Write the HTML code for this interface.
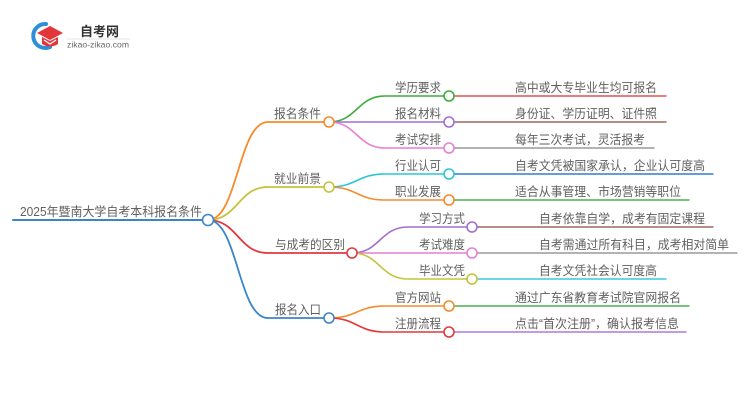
<!DOCTYPE html>
<html>
<head>
<meta charset="utf-8">
<style>
html,body{margin:0;padding:0;background:#fff;}
svg{display:block;}
text{font-family:"Liberation Sans","Noto Sans CJK SC","WenQuanYi Zen Hei",sans-serif;}
.t{font-size:12.5px;fill:#606060;}
</style>
</head>
<body>
<svg width="750" height="410" viewBox="0 0 750 410" xmlns="http://www.w3.org/2000/svg">
<!-- logo -->
<g>
  <path d="M46 24 A12 12 0 1 0 50 47" fill="none" stroke="#2c8fd8" stroke-width="4" stroke-linecap="round"/>
  <path d="M37 33 L50 26 L63 33 L50 40 Z" fill="#e2363a"/>
  <path d="M42 37 L42 44 Q50 49 58 44 L58 37 L50 41 Z" fill="#e2363a"/>
  <path d="M44 40 L50 44 L56 40" fill="none" stroke="#fff" stroke-width="1.2"/>
  <text x="80" y="36" style="font-size:13px;font-weight:bold;fill:#333;font-family:'Liberation Sans','Noto Sans CJK SC',sans-serif;">自考网</text>
  <line x1="67" y1="39" x2="130" y2="39" stroke="#e4e4e4" stroke-width="1"/>
  <text x="67" y="47.5" style="font-size:8.6px;fill:#666;" textLength="62">zikao-zikao.com</text>
</g>

<g fill="none" stroke-linecap="round">
  <line x1="13" y1="220" x2="203" y2="220" stroke="#3a86c8" stroke-width="2"/>
  <path d="M208 220 C238 220 238 122 268 122 L324 122" stroke="#f68b2c" stroke-width="1.8"/>
  <path d="M208 220 C238 220 238 187 268 187 L324 187" stroke="#c5c33a" stroke-width="1.8"/>
  <path d="M208 220 C238 220 238 253 268 253 L347 253" stroke="#e0393e" stroke-width="1.8"/>
  <path d="M208 220 C238 220 238 318 268 318 L324 318" stroke="#3a86c8" stroke-width="1.8"/>

  <path d="M329 122 C357 122 357 96 385 96 L444 96" stroke="#3cad3c" stroke-width="1.6"/>
  <path d="M329 122 L444 122" stroke="#a26fd1" stroke-width="1.6"/>
  <path d="M329 122 C357 122 357 148 385 148 L444 148" stroke="#e77fd2" stroke-width="1.6"/>

  <path d="M329 187 C357 187 357 174 385 174 L444 174" stroke="#2cc5d8" stroke-width="1.6"/>
  <path d="M329 187 C357 187 357 200 385 200 L444 200" stroke="#f68b2c" stroke-width="1.6"/>

  <path d="M352 253 C380 253 380 227 408 227 L467 227" stroke="#a26fd1" stroke-width="1.6"/>
  <path d="M352 253 L467 253" stroke="#e77fd2" stroke-width="1.6"/>
  <path d="M352 253 C380 253 380 279 408 279 L467 279" stroke="#c5c33a" stroke-width="1.6"/>

  <path d="M329 318 C357 318 357 306 385 306 L444 306" stroke="#f68b2c" stroke-width="1.6"/>
  <path d="M329 318 C357 318 357 332 385 332 L444 332" stroke="#e0393e" stroke-width="1.6"/>

  <line x1="454" y1="96" x2="666" y2="96" stroke="#e05050" stroke-width="1.4"/>
  <line x1="454" y1="122" x2="666" y2="122" stroke="#a1695c" stroke-width="1.4"/>
  <line x1="454" y1="148" x2="654" y2="148" stroke="#9a9a9a" stroke-width="1.4"/>
  <line x1="454" y1="174" x2="713" y2="174" stroke="#2f7fd4" stroke-width="1.4"/>
  <line x1="454" y1="200" x2="689" y2="200" stroke="#4cb04c" stroke-width="1.4"/>
  <line x1="477" y1="227" x2="713" y2="227" stroke="#a1695c" stroke-width="1.4"/>
  <line x1="477" y1="253" x2="737" y2="253" stroke="#9a9a9a" stroke-width="1.4"/>
  <line x1="477" y1="279" x2="666" y2="279" stroke="#3cc8d8" stroke-width="1.4"/>
  <line x1="454" y1="306" x2="689" y2="306" stroke="#4cb04c" stroke-width="1.4"/>
  <line x1="454" y1="332" x2="686" y2="332" stroke="#b07ad8" stroke-width="1.4"/>
</g>

<g fill="#fff" stroke-width="1.6">
  <circle cx="208" cy="220" r="5.5" stroke="#3a86c8"/>
  <circle cx="329" cy="122" r="5" stroke="#f68b2c"/>
  <circle cx="329" cy="187" r="5" stroke="#c5c33a"/>
  <circle cx="352" cy="253" r="5" stroke="#e0393e"/>
  <circle cx="329" cy="318" r="5" stroke="#3a86c8"/>

  <circle cx="449" cy="96" r="5" stroke="#3cad3c"/>
  <circle cx="449" cy="122" r="5" stroke="#a26fd1"/>
  <circle cx="449" cy="148" r="5" stroke="#e77fd2"/>
  <circle cx="449" cy="174" r="5" stroke="#2cc5d8"/>
  <circle cx="449" cy="200" r="5" stroke="#f68b2c"/>
  <circle cx="472" cy="227" r="5" stroke="#a26fd1"/>
  <circle cx="472" cy="253" r="5" stroke="#e77fd2"/>
  <circle cx="472" cy="279" r="5" stroke="#c5c33a"/>
  <circle cx="449" cy="306" r="5" stroke="#f68b2c"/>
  <circle cx="449" cy="332" r="5" stroke="#e0393e"/>
</g>

<g>
  <text class="t" x="20" y="216" textLength="182" lengthAdjust="spacingAndGlyphs">2025年暨南大学自考本科报名条件</text>

  <text class="t" x="274" y="118" textLength="47" lengthAdjust="spacingAndGlyphs">报名条件</text>
  <text class="t" x="274" y="183" textLength="47" lengthAdjust="spacingAndGlyphs">就业前景</text>
  <text class="t" x="275" y="249" textLength="70" lengthAdjust="spacingAndGlyphs">与成考的区别</text>
  <text class="t" x="275" y="314" textLength="46" lengthAdjust="spacingAndGlyphs">报名入口</text>

  <text class="t" x="395" y="92" textLength="46" lengthAdjust="spacingAndGlyphs">学历要求</text>
  <text class="t" x="395" y="118" textLength="46" lengthAdjust="spacingAndGlyphs">报名材料</text>
  <text class="t" x="395" y="144" textLength="46" lengthAdjust="spacingAndGlyphs">考试安排</text>
  <text class="t" x="395" y="170" textLength="46" lengthAdjust="spacingAndGlyphs">行业认可</text>
  <text class="t" x="395" y="196" textLength="46" lengthAdjust="spacingAndGlyphs">职业发展</text>
  <text class="t" x="419" y="223" textLength="46" lengthAdjust="spacingAndGlyphs">学习方式</text>
  <text class="t" x="419" y="249" textLength="46" lengthAdjust="spacingAndGlyphs">考试难度</text>
  <text class="t" x="419" y="275" textLength="46" lengthAdjust="spacingAndGlyphs">毕业文凭</text>
  <text class="t" x="395" y="302" textLength="46" lengthAdjust="spacingAndGlyphs">官方网站</text>
  <text class="t" x="395" y="328" textLength="46" lengthAdjust="spacingAndGlyphs">注册流程</text>

  <text class="t" x="515" y="92" textLength="142" lengthAdjust="spacingAndGlyphs">高中或大专毕业生均可报名</text>
  <text class="t" x="515" y="118" textLength="142" lengthAdjust="spacingAndGlyphs">身份证、学历证明、证件照</text>
  <text class="t" x="515" y="144" textLength="130" lengthAdjust="spacingAndGlyphs">每年三次考试，灵活报考</text>
  <text class="t" x="515" y="170" textLength="190" lengthAdjust="spacingAndGlyphs">自考文凭被国家承认，企业认可度高</text>
  <text class="t" x="515" y="196" textLength="166" lengthAdjust="spacingAndGlyphs">适合从事管理、市场营销等职位</text>
  <text class="t" x="539" y="223" textLength="166" lengthAdjust="spacingAndGlyphs">自考依靠自学，成考有固定课程</text>
  <text class="t" x="539" y="249" textLength="190" lengthAdjust="spacingAndGlyphs">自考需通过所有科目，成考相对简单</text>
  <text class="t" x="539" y="275" textLength="118" lengthAdjust="spacingAndGlyphs">自考文凭社会认可度高</text>
  <text class="t" x="515" y="302" textLength="166" lengthAdjust="spacingAndGlyphs">通过广东省教育考试院官网报名</text>
  <text class="t" x="515" y="328" textLength="164" lengthAdjust="spacingAndGlyphs">点击“首次注册”，确认报考信息</text>
</g>
</svg>
</body>
</html>
